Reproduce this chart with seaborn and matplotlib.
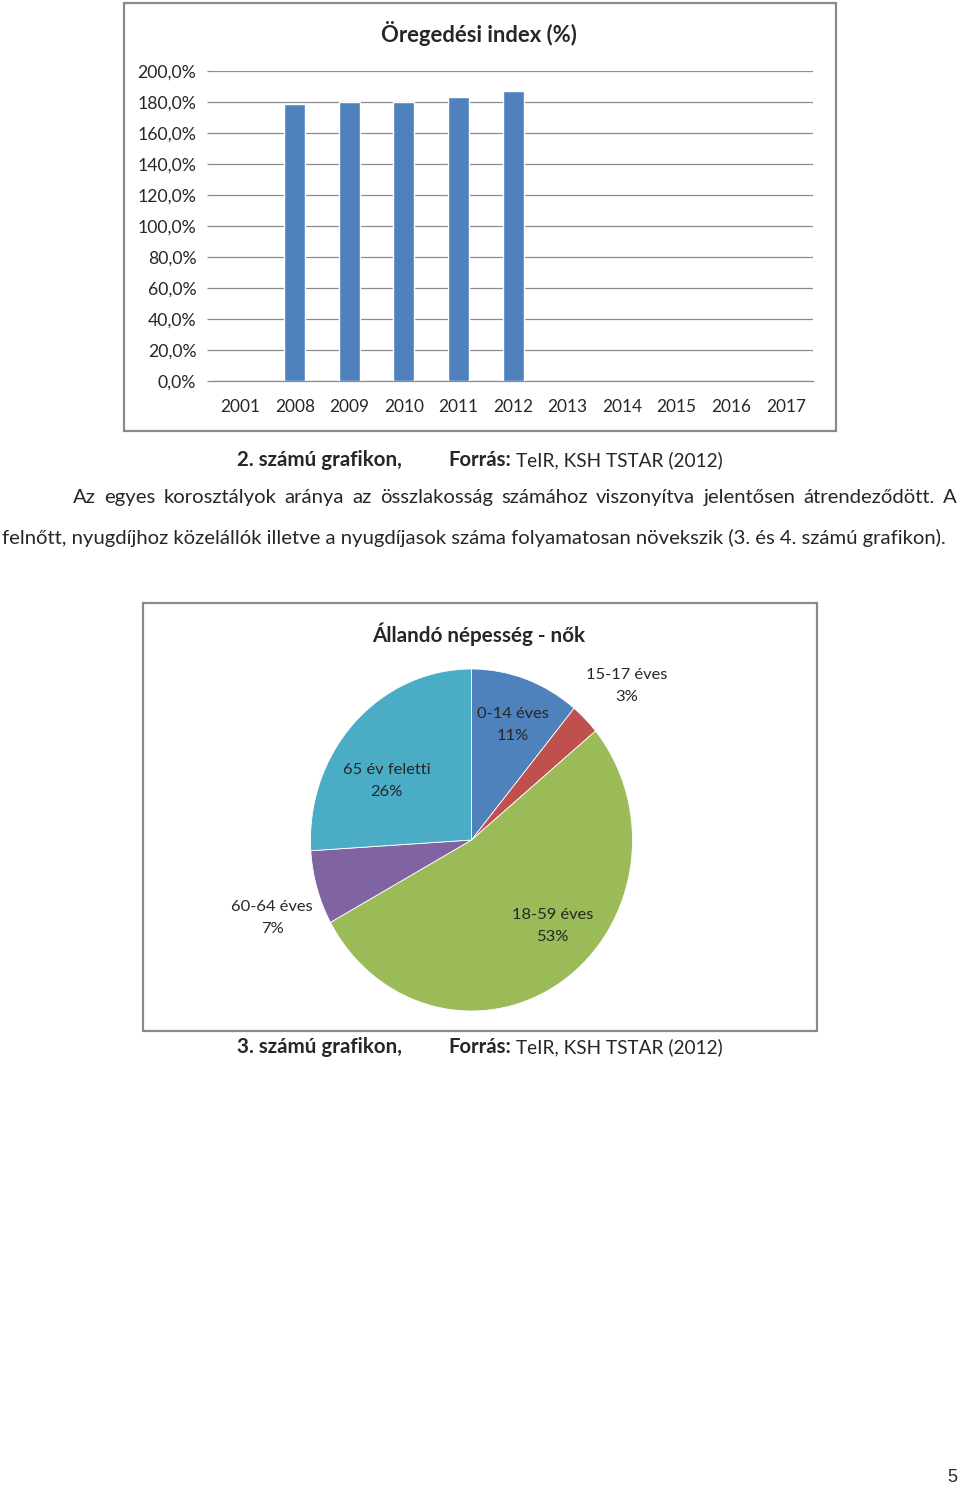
import numpy as np
import pandas as pd
import matplotlib
matplotlib.use("Agg")
import matplotlib.pyplot as plt
from matplotlib.patches import Rectangle
from matplotlib.ticker import FixedLocator
import seaborn as sns

# ---------------- data ----------------
years = ["2001", "2008", "2009", "2010", "2011", "2012",
         "2013", "2014", "2015", "2016", "2017"]
index_years = ["2008", "2009", "2010", "2011", "2012"]
aging_index = [179.0, 180.2, 180.1, 183.4, 186.9]
y_ticks = [0, 20, 40, 60, 80, 100, 120, 140, 160, 180, 200]
y_tick_labels = ["0,0%", "20,0%", "40,0%", "60,0%", "80,0%", "100,0%",
                 "120,0%", "140,0%", "160,0%", "180,0%", "200,0%"]

age_groups = ["0-14 éves", "15-17 éves", "18-59 éves", "60-64 éves", "65 év feletti"]
shares = [11, 3, 53, 7, 26]
share_labels = ["11%", "3%", "53%", "7%", "26%"]

chart1_title = "Öregedési index (%)"
chart2_title = "Állandó népesség - nők"
caption1_num = "2. számú grafikon,"
caption2_num = "3. számú grafikon,"
caption_src_bold = "Forrás:"
caption_src = "TeIR, KSH TSTAR (2012)"
para_line1 = "Az egyes korosztályok aránya az összlakosság számához viszonyítva jelentősen átrendeződött. A"
para_line2 = "felnőtt, nyugdíjhoz közelállók illetve a nyugdíjasok száma folyamatosan növekszik (3. és 4. számú grafikon)."
page_number = "5"

# ---------------- style ----------------
bar_color = "#4F81BD"
pie_colors = ["#4F81BD", "#C0504D", "#9BBB59", "#8064A2", "#4BACC6"]
grid_color = "#8C8C8C"
frame_color = "#8A8A8A"

sns.set_theme(style="white")
plt.rcParams["font.family"] = ["Lato", "DejaVu Sans"]

W, H = 960, 1486
fig = plt.figure(figsize=(W / 100, H / 100), dpi=100)
renderer = fig.canvas.get_renderer()


def fx(x):
    return x / W


def fy(y):
    return 1 - y / H


def rect(x0, y0, x1, y1):
    return [fx(x0), fy(y1), (x1 - x0) / W, (y1 - y0) / H]


def text_width(s, size, weight="normal"):
    t = fig.text(0, 0, s, fontsize=size, fontweight=weight)
    w = t.get_window_extent(renderer).width
    t.remove()
    return w


def fit(s, target, weight="normal"):
    return 10 * target / text_width(s, 10, weight)


# frames
for (x0, y0, x1, y1) in [(124, 3, 836, 431), (143, 603, 817, 1031)]:
    fig.patches.append(Rectangle((fx(x0), fy(y1)), (x1 - x0) / W, (y1 - y0) / H,
                                 transform=fig.transFigure, fill=False,
                                 edgecolor=frame_color, linewidth=1.6, zorder=0))

# ---------------- bar chart ----------------
tick_fs = fit("200,0%", 59)
ax1 = fig.add_axes(rect(213, 71, 813, 381))
df = pd.DataFrame({"year": index_years, "value": aging_index})
sns.barplot(data=df, x="year", y="value", order=years, color=bar_color,
            width=0.385, saturation=1, ax=ax1, zorder=3)
ax1.set_xlim(-0.5, len(years) - 0.5)
ax1.set_ylim(0, 200)
ax1.set_yticks(y_ticks)
ax1.set_yticklabels(y_tick_labels, fontsize=tick_fs)
ax1.set_xticks(range(len(years)))
ax1.set_xticklabels(years, fontsize=fit("2001", 40))
ax1.xaxis.set_minor_locator(FixedLocator(np.arange(-0.5, len(years), 1.0)))
ax1.tick_params(axis="x", which="major", length=0, pad=13)
ax1.tick_params(axis="x", which="minor", length=5, width=0.9, color=grid_color, direction="out")
ax1.tick_params(axis="y", which="major", length=4, width=0.9, color=grid_color,
                direction="out", pad=8, left=True)
ax1.grid(axis="y", color=grid_color, linewidth=0.9, zorder=0)
ax1.set_axisbelow(True)
for s in ["top", "right", "left"]:
    ax1.spines[s].set_visible(False)
ax1.spines["bottom"].set_color(grid_color)
ax1.spines["bottom"].set_linewidth(0.9)
ax1.set_xlabel("")
ax1.set_ylabel("")

fig.text(fx(479), fy(33), chart1_title, ha="center", va="center",
         fontsize=fit(chart1_title, 196, "bold"), fontweight="bold")

# ---------------- captions & paragraph ----------------
cap_fs = fit(caption1_num, 165, "bold")
src_bold_fs = fit(caption_src_bold, 63, "bold")
src_fs = fit(caption_src, 206)


def caption(y, num_text):
    fig.text(fx(237), fy(y), num_text, ha="left", va="center",
             fontsize=cap_fs, fontweight="bold")
    fig.text(fx(448), fy(y), caption_src_bold, ha="left", va="center",
             fontsize=src_bold_fs, fontweight="bold")
    fig.text(fx(516), fy(y), caption_src, ha="left", va="center", fontsize=src_fs)


caption(460, caption1_num)
caption(1047, caption2_num)

para_fs = fit(para_line2, 946)
fig.text(fx(2), fy(538), para_line2, ha="left", va="center", fontsize=para_fs)
words = para_line1.split(" ")
widths = [text_width(w_, para_fs) for w_ in words]
gap = (957 - 73 - sum(widths)) / (len(words) - 1)
xcur = 73
for w_, wd in zip(words, widths):
    fig.text(fx(xcur), fy(498), w_, ha="left", va="center", fontsize=para_fs)
    xcur += wd + gap

fig.text(fx(952), fy(1478), page_number, ha="center", va="center",
         fontsize=13, family=["Liberation Sans", "DejaVu Sans"])

# ---------------- pie chart ----------------
fig.text(fx(479), fy(634), chart2_title, ha="center", va="center",
         fontsize=fit(chart2_title, 214, "bold"), fontweight="bold")

cx, cy, rx, ry = 471.5, 840, 161, 171
ax2 = fig.add_axes(rect(cx - 1.5 * rx, cy - 1.5 * ry, cx + 1.5 * rx, cy + 1.5 * ry))
wedges, _ = ax2.pie(shares, colors=pie_colors, startangle=90, counterclock=False,
                    wedgeprops=dict(edgecolor="white", linewidth=0.6))
ax2.set_aspect("auto")
ax2.set_xlim(-1.5, 1.5)
ax2.set_ylim(-1.5, 1.5)
ax2.axis("off")

label_dist = [0.72, 1.32, 0.71, 1.32, 0.63]
label_nudge = [-1, -2, 10.8, 4, 10]
lab_fs = fit("0-14 éves", 72)
for wdg, name, pct, d, nd in zip(wedges, age_groups, share_labels, label_dist, label_nudge):
    ang = np.deg2rad((wdg.theta1 + wdg.theta2) / 2 + nd)
    ax2.text(d * np.cos(ang), d * np.sin(ang), f"{name}\n{pct}", ha="center", va="center",
             fontsize=lab_fs, linespacing=1.75)

fig.savefig("out.png", dpi=100, facecolor="white")
